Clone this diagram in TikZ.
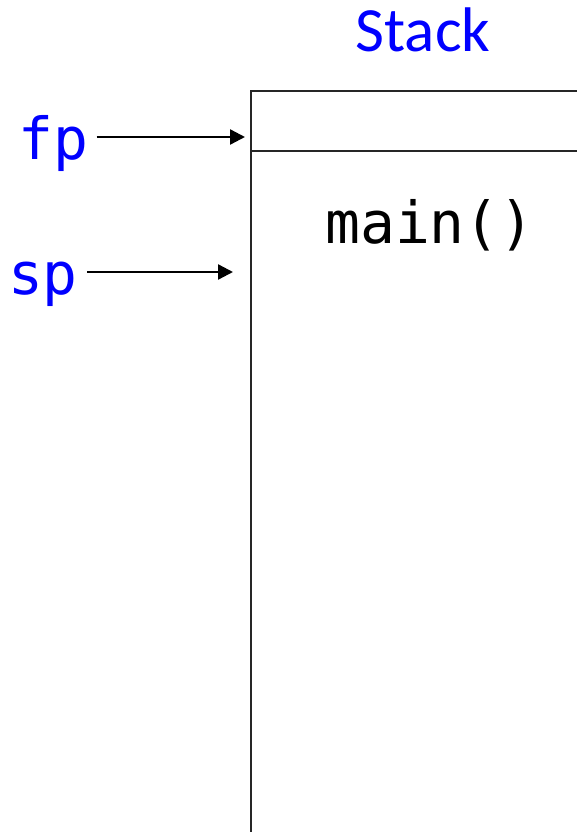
\documentclass[tikz,border=0pt]{standalone}
\usepackage{fontspec}
\setmainfont{Carlito}
\newfontfamily\monofnt{DejaVu Sans Mono}
\usetikzlibrary{arrows.meta}
\definecolor{regblue}{RGB}{0,0,255}
\tikzset{
  reglabel/.style={inner sep=0pt, anchor=base, text=regblue, font=\monofnt\fontsize{58}{60}\selectfont},
  ptr/.style={line width=2.4pt, -{Triangle[length=15pt,width=15pt]}},
  frameline/.style={line width=1.2pt, draw=black!85},
}
\begin{document}
\begin{tikzpicture}[x=1pt,y=1pt]
\useasboundingbox[fill=white] (0,0) rectangle (577,-832);
% stack frame
\coordinate (bl) at (251,-832);
\coordinate (tl) at (251,-91);
\coordinate (tr) at (577,-91);
\coordinate (ml) at (251,-151);
\coordinate (mr) at (577,-151);
\draw[frameline] (bl) -- (tl) -- (tr);
\draw[frameline] (ml) -- (mr);
% labels
\node[inner sep=0pt, anchor=base, text=regblue, font=\fontsize{63}{64}\selectfont] (title) at (423,-52) {Stack};
\node[inner sep=0pt, anchor=base, font=\monofnt\fontsize{58}{60}\selectfont] (mainf) at (430,-243) {main()};
\node[reglabel] (fp) at (53.5,-159) {fp};
\node[reglabel] (sp) at (43,-294) {sp};
% pointers
\coordinate (fptip) at (245,-137);
\coordinate (sptip) at (233,-272);
\draw[ptr] ([xshift=8pt]fp.east |- fptip) -- (fptip);
\draw[ptr] ([xshift=9pt]sp.east |- sptip) -- (sptip);
\end{tikzpicture}
\end{document}
